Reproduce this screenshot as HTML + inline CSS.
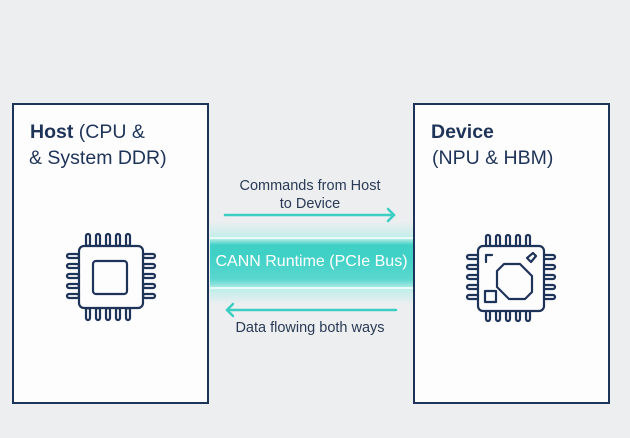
<!DOCTYPE html>
<html><head><style>
body{margin:0;width:630px;height:438px;background:#eceef0;overflow:hidden;font-family:"Liberation Sans",sans-serif;position:relative}
.box{position:absolute;top:103px;width:193px;height:297px;border:2px solid #1e3358;background:#fdfdfe}
.t{position:absolute;color:#1e3358;font-size:19.5px;white-space:nowrap}
.s{position:absolute;color:#2a3a55;font-size:14.5px;text-align:center;white-space:nowrap}
</style></head><body>
<div class="box" style="left:12px"></div>
<div class="box" style="left:413px"></div>
<div class="t" style="left:30px;top:121px"><b>Host</b> (CPU &amp;</div>
<div class="t" style="left:29px;top:147px">&amp; System DDR)</div>
<div class="t" style="left:431px;top:121px"><b>Device</b></div>
<div class="t" style="left:432px;top:147px">(NPU &amp; HBM)</div>
<div style="position:absolute;left:210px;top:222px;width:203px;height:82px;background:linear-gradient(#eceef0,#bfeeea 20%,#3fd0c6 28%,#3fd0c6 40%,#5ad7ce 70%,#bfeeea 82%,#eceef0)"></div>
<div style="position:absolute;left:210px;top:237px;width:203px;height:2px;background:#e8fbf9"></div>
<div style="position:absolute;left:210px;top:287px;width:203px;height:2px;background:#e8fbf9"></div>
<div style="position:absolute;left:208px;top:253px;width:207px;text-align:center;color:#fff;font-size:16px">CANN Runtime (PCIe Bus)</div>
<div class="s" style="left:215px;top:177px;width:190px;line-height:18px">Commands from Host<br>to Device</div>
<div class="s" style="left:215px;top:320px;width:190px">Data flowing both ways</div>
<svg width="630" height="438" style="position:absolute;left:0;top:0" fill="none" stroke-linecap="round" stroke-linejoin="round">
<g stroke="#3ccdc3" stroke-width="2.5">
<line x1="225" y1="215" x2="394" y2="215"/><polyline points="388,209 394,215 388,221"/>
<line x1="227" y1="310" x2="396" y2="310"/><polyline points="233,304 227,310 233,316"/>
</g>
<g stroke="#1e3358" stroke-width="2.2" id="c1">
<rect x="79" y="246" width="64" height="62" rx="5"/>
<rect x="93" y="261" width="34" height="33" rx="3"/>
<g id="pins">
<rect x="86" y="234" width="4" height="12" rx="2"/><rect x="96" y="234" width="4" height="12" rx="2"/><rect x="106" y="234" width="4" height="12" rx="2"/><rect x="116" y="234" width="4" height="12" rx="2"/><rect x="126" y="234" width="4" height="12" rx="2"/>
<rect x="86" y="308" width="4" height="12" rx="2"/><rect x="96" y="308" width="4" height="12" rx="2"/><rect x="106" y="308" width="4" height="12" rx="2"/><rect x="116" y="308" width="4" height="12" rx="2"/><rect x="126" y="308" width="4" height="12" rx="2"/>
<rect x="67" y="254" width="12" height="4" rx="2"/><rect x="67" y="264" width="12" height="4" rx="2"/><rect x="67" y="274" width="12" height="4" rx="2"/><rect x="67" y="284" width="12" height="4" rx="2"/><rect x="67" y="294" width="12" height="4" rx="2"/>
<rect x="143" y="254" width="12" height="4" rx="2"/><rect x="143" y="264" width="12" height="4" rx="2"/><rect x="143" y="274" width="12" height="4" rx="2"/><rect x="143" y="284" width="12" height="4" rx="2"/><rect x="143" y="294" width="12" height="4" rx="2"/>
</g>
</g>
<g stroke="#1e3358" stroke-width="2.2">
<use href="#pins" transform="translate(400,1)"/>
<rect x="478" y="246" width="66" height="65" rx="5" fill="#fdfdfe"/>
<polygon points="504,264 520,264 532,276 532,292 525,299 509,299 497,287 497,271"/>
<polyline points="486,262 486,255 492,255"/>
<path d="M527,258 l6,-5 l3,3 l-5,6 z"/>
<rect x="485" y="291" width="11" height="11"/>
</g>
</svg>
</body></html>
